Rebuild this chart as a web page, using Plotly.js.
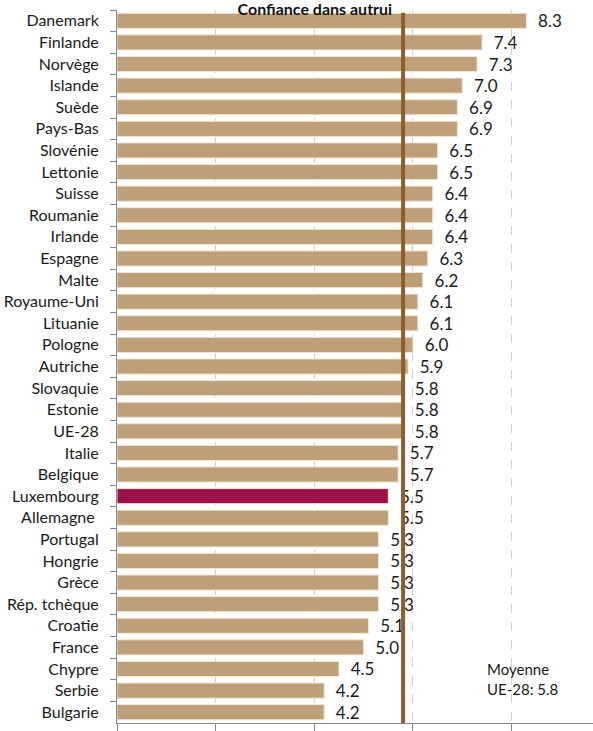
<!DOCTYPE html>
<html>
<head>
<meta charset="utf-8">
<script src="https://cdn.plot.ly/plotly-3.0.1.min.js"></script>
<style>html,body{margin:0;padding:0;background:#fff;}</style>
</head>
<body>
<div id="chart" style="width:593px;height:731px;"></div>
<script>
const countries = ["Danemark","Finlande","Norvège","Islande","Suède","Pays-Bas","Slovénie","Lettonie","Suisse","Roumanie","Irlande","Espagne","Malte","Royaume-Uni","Lituanie","Pologne","Autriche","Slovaquie","Estonie","UE-28","Italie","Belgique","Luxembourg","Allemagne\u00a0","Portugal","Hongrie","Grèce","Rép. tchèque","Croatie","France","Chypre","Serbie","Bulgarie"];
const values = [8.3,7.4,7.3,7.0,6.9,6.9,6.5,6.5,6.4,6.4,6.4,6.3,6.2,6.1,6.1,6.0,5.9,5.8,5.8,5.8,5.7,5.7,5.5,5.5,5.3,5.3,5.3,5.3,5.1,5.0,4.5,4.2,4.2];
const highlight = "Luxembourg";
const euAverage = 5.8;
const avgLabel = "Moyenne<br>UE-28: 5.8";
const chartTitle = "Confiance dans autrui";

const colors = countries.map(c => c === highlight ? "#9b1048" : "#bf9f77");

const trace = {
  type: "bar",
  orientation: "h",
  y: countries,
  x: values,
  marker: {color: colors, line: {color: "#efe5d8", width: 1}},
  width: 0.7,
  texttemplate: "\u00a0\u00a0%{x:.1f}",
  textposition: "outside",
  constraintext: "none",
  cliponaxis: false,
  outsidetextfont: {family: "Lato, 'Open Sans', sans-serif", size: 17, color: "#1a1a1a"},
  hoverinfo: "skip"
};

const layout = {
  width: 593, height: 731,
  margin: {l: 117, r: 0, t: 10, b: 8},
  paper_bgcolor: "#fff", plot_bgcolor: "#fff",
  showlegend: false,
  bargap: 0.3,
  font: {family: "Lato, 'Open Sans', sans-serif", color: "#1a1a1a"},
  title: {text: "<b>" + chartTitle + "</b>", x: 0.531, xanchor: "center", xref: "container", y: 0.987, yanchor: "middle", yref: "container", font: {size: 16, color: "#111"}},
  xaxis: {
    range: [0, 9.65], tickvals: [0, 2, 4, 6, 8], showticklabels: false,
    ticks: "outside", ticklen: 7, tickcolor: "#868686",
    showgrid: true, gridcolor: "#d0d0d0", griddash: "dash", gridwidth: 1,
    zeroline: false, showline: true, linecolor: "#868686", linewidth: 1, fixedrange: true
  },
  yaxis: {
    autorange: "reversed", type: "category",
    ticks: "outside", tickson: "boundaries", ticklen: 6, tickcolor: "#868686",
    showline: true, linecolor: "#868686", linewidth: 1,
    tickfont: {size: 16, color: "#1a1a1a"}, ticklabelstandoff: 14,
    showgrid: false, fixedrange: true
  },
  shapes: [{
    type: "line", xref: "x", yref: "paper", x0: euAverage, x1: euAverage, y0: 0, y1: 0.996,
    line: {color: "#8b5e2b", width: 4}, layer: "above"
  }],
  annotations: [{
    text: avgLabel, xref: "paper", yref: "paper", x: 0.774, y: 0.062,
    xanchor: "left", yanchor: "middle", align: "left", showarrow: false,
    font: {size: 15, color: "#1a1a1a"}
  }]
};

Plotly.newPlot("chart", [trace], layout, {displayModeBar: false, staticPlot: true});
</script>
</body>
</html>
